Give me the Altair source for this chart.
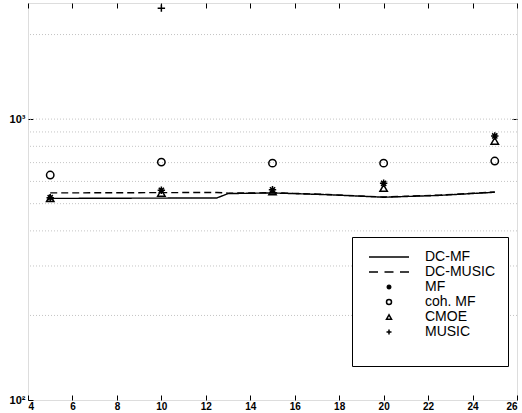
import altair as alt
import pandas as pd

# ---- data ----
series_order = ["DC-MF", "DC-MUSIC", "MF", "coh. MF", "CMOE", "MUSIC"]

pt_x = [5, 10, 15, 20, 25]
mf_vals = [525, 558, 560, 591, 871]
coh_vals = [632, 703, 697, 697, 709]
cmoe_vals = [523, 546, 552, 568, 836]
music_x = [10]
music_vals = [2483]

dcmf_x = [5, 12.5, 13, 15, 17.5, 20, 22.5, 25]
dcmf_vals = [522, 524, 543, 546, 538, 527, 535, 549]
dcmusic_x = [5, 12.5, 13, 15, 17.5, 20, 22.5, 25]
dcmusic_vals = [546, 548, 545, 547, 539, 528, 536, 550]

grid_vals = [200, 300, 400, 500, 600, 700, 800, 900, 1000, 2000]
x_ticks = [4, 6, 8, 10, 12, 14, 16, 18, 20, 22, 24, 26]
y_ticks = [100, 1000]

# ---- tables ----
pts = pd.concat([
    pd.DataFrame({"x": pt_x, "v": mf_vals, "series": "MF"}),
    pd.DataFrame({"x": pt_x, "v": coh_vals, "series": "coh. MF"}),
    pd.DataFrame({"x": pt_x, "v": cmoe_vals, "series": "CMOE"}),
    pd.DataFrame({"x": music_x, "v": music_vals, "series": "MUSIC"}),
])
lines = pd.concat([
    pd.DataFrame({"x": dcmf_x, "v": dcmf_vals, "series": "DC-MF"}),
    pd.DataFrame({"x": dcmusic_x, "v": dcmusic_vals, "series": "DC-MUSIC"}),
])
grid = pd.DataFrame({"g": grid_vals})

FONT = "Liberation Sans"
xs = alt.Scale(domain=[4, 26], nice=False, zero=False)
ys = alt.Scale(type="log", domain=[100, 2590], nice=False)

shape_range = [
    "M-8,0H8",
    "M-8,0H-4.4M-1.8,0H1.8M4.4,0H8",
    "M-1,0H1M0,-1V1M-0.7,-0.7L0.7,0.7M-0.7,0.7L0.7,-0.7",
    "circle",
    "triangle-up",
    "M-1,0H1M0,-1V1",
]

grid_layer = alt.Chart(grid).mark_rule(
    color="#c4c4c4", strokeDash=[1, 2], strokeWidth=1
).encode(y=alt.Y("g:Q", scale=ys, axis=None))

line_layer = alt.Chart(lines).mark_line(color="black", strokeWidth=1.4).encode(
    x=alt.X("x:Q", scale=xs, axis=alt.Axis(
        orient="top", values=x_ticks, labels=False, domain=False, grid=False,
        ticks=True, tickSize=5, offset=-5, tickColor="black", tickWidth=1, title=None)),
    y=alt.Y("v:Q", scale=ys, axis=alt.Axis(
        orient="right", values=[1000], labels=False, domain=False, grid=False,
        ticks=True, tickSize=5, offset=-5, tickColor="black", tickWidth=1, title=None)),
    strokeDash=alt.StrokeDash("series:N", scale=alt.Scale(
        domain=["DC-MF", "DC-MUSIC"], range=[[1, 0], [7, 4]]), legend=None),
    detail="series:N",
)

point_layer = alt.Chart(pts).mark_point(
    color="black", filled=False, size=55, strokeWidth=1.5, opacity=1
).encode(
    x=alt.X("x:Q", scale=xs, axis=alt.Axis(
        orient="bottom", values=x_ticks, domain=False, grid=False, ticks=True,
        tickSize=5, offset=-5, tickColor="black", tickWidth=1, labelPadding=1,
        labelFont=FONT, labelFontSize=10, labelFontWeight="bold", labelColor="black",
        title=None)),
    y=alt.Y("v:Q", scale=ys, axis=alt.Axis(
        orient="left", values=y_ticks, domain=False, grid=False, ticks=True,
        tickSize=5, offset=-5, tickColor="black", tickWidth=1, labelPadding=3,
        labelFont=FONT, labelFontSize=11, labelFontWeight="bold", labelColor="black",
        labelExpr="datum.value == 100 ? '10\u00b2' : '10\u00b3'", title=None)),
    shape=alt.Shape("series:N", scale=alt.Scale(domain=series_order, range=shape_range),
                    legend=alt.Legend(
                        title=" ", titleOrient="bottom", titleFontSize=10, titlePadding=4,
                        orient="none", legendX=324, legendY=234, padding=13,
                        strokeColor="black", fillColor="white",
                        labelFont=FONT, labelFontSize=14, labelColor="black",
                        rowPadding=1, symbolSize=25, symbolStrokeWidth=1.5,
                        symbolStrokeColor="black", symbolFillColor="transparent",
                        symbolOffset=17, labelOffset=29)),
)

chart = alt.layer(grid_layer, line_layer, point_layer).resolve_axis(
    x="independent", y="independent"
).properties(
    width=489, height=397,
    padding={"left": 28, "top": 3, "right": 5, "bottom": 13},
    autosize=alt.AutoSizeParams(type="none"),
).configure_view(stroke="black", strokeWidth=1.5).configure_legend(
    labelOffset=29
).configure(background="white")

chart.save("out.html", embed_options={"renderer": "svg", "actions": False})
